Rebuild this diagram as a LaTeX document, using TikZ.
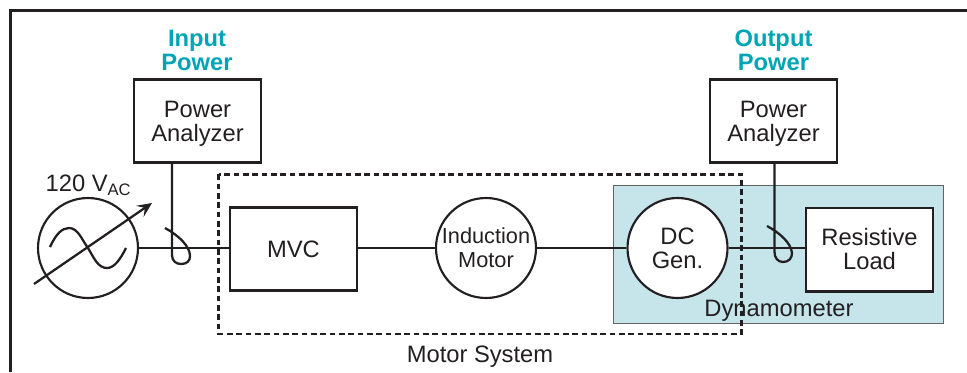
\documentclass[tikz,border=0pt]{standalone}
\usepackage{fontspec}
\setmainfont{Liberation Sans}
\usepackage{xcolor}
\usetikzlibrary{arrows.meta,positioning,calc}
\definecolor{dynofill}{RGB}{198,229,235}
\definecolor{powerteal}{RGB}{0,165,180}
\definecolor{inkdark}{RGB}{35,31,32}
\tikzset{
	basic/.style = {draw=inkdark, fill=white, align=center, text=inkdark, inner sep=0pt, font=\fontsize{17.8}{18}\selectfont},
	block/.style = {basic, rectangle, line width=1.9pt, minimum width=95.3pt, minimum height=62.6pt},
	round/.style = {basic, circle, line width=1.6pt, minimum size=75pt},
	wire/.style = {draw=inkdark, line width=1.7pt},
	caption/.style = {text=inkdark, align=center, inner sep=0pt, font=\fontsize{17.8}{18}\selectfont},
	power/.style = {text=powerteal, align=center, inner sep=0pt, font=\fontsize{17.8}{18}\selectfont\bfseries}
}
\begin{document}
\begin{tikzpicture}[x=0.75pt,y=-0.75pt,>={Stealth}]
	\useasboundingbox (0,0) rectangle (967,372);
	% frame
	\coordinate (fa) at (10.4,372);
	\coordinate (fb) at (10.4,10.4);
	\coordinate (fc) at (967,10.4);
	\draw[wire, line width=1.8pt] (fa) -- (fb) -- (fc);
	% dynamometer
	\node[draw=inkdark!70, line width=0.8pt, fill=dynofill, minimum width=247.5pt, minimum height=104pt, inner sep=0pt] (dyno) at (778.5,254.5) {};
	% blocks
	\node[round] (source) at (88,248) {};
	\node[block] (mvc) at (293.5,249) {MVC};
	\node[round, font=\fontsize{16.3}{18}\selectfont] (motor) at (486,248) {Induction\\Motor};
	\node[round] (gen) at (677.5,248) {DC\\Gen.};
	\node[block] (load) at (869.5,249.5) {Resistive\\Load};
	\node[block] (pa1) at (197.5,121) {Power\\\smash{Analyzer}};
	\node[block] (pa2) at (773.5,121) {Power\\\smash{Analyzer}};
	% wires
	\draw[wire] (source) -- (source -| mvc.west);
	\draw[wire] (source -| mvc.east) -- (motor);
	\draw[wire] (motor) -- (gen);
	\draw[wire] (gen) -- (source -| load.west);
	\draw[wire] (pa1.south -| 172,0) -- (172,255) .. controls (172,261) and (176,264) .. (181,264) .. controls (187,264) and (190,261) .. (190,256) .. controls (190,246) and (178,235) .. (165,228);
	\draw[wire] (pa2.south -| 774.5,0) -- (774.5,252) .. controls (774.5,258) and (778,262) .. (783,262) .. controls (789,262) and (792,258) .. (792,253) .. controls (791,243) and (780,233) .. (767,226);
	% motor system
	\coordinate (msa) at (218.7,174.3);
	\coordinate (msb) at (741.3,334);
	\draw[wire, line width=1.9pt, dash pattern=on 4.2pt off 2.8pt] (msa) rectangle (msb);
	% source symbol
	\draw[wire] (50,247) .. controls (56,234) and (62,228) .. (69,228) .. controls (78,228) and (82,240) .. (88,248) .. controls (94,258) and (98,268) .. (107,268) .. controls (114,268) and (120,260) .. (126,248);
	\coordinate (sa) at (34,284);
	\coordinate (sb) at (152,203);
	\draw[wire, -{Stealth[length=11pt,width=10pt,inset=4.5pt]}] (sa) -- (sb);
	% labels
	\node[caption] (vac) at (88.5,185) {120 V\textsubscript{AC}};
	\node[power] (inp) at (197,50) {Input\\Power};
	\node[power] (outp) at (773.5,50) {Output\\Power};
	\node[caption] (dynolabel) at (779,310.5) {Dynamometer};
	\node[caption] (mslabel) at (480,356.5) {Motor System};
\end{tikzpicture}
\end{document}
